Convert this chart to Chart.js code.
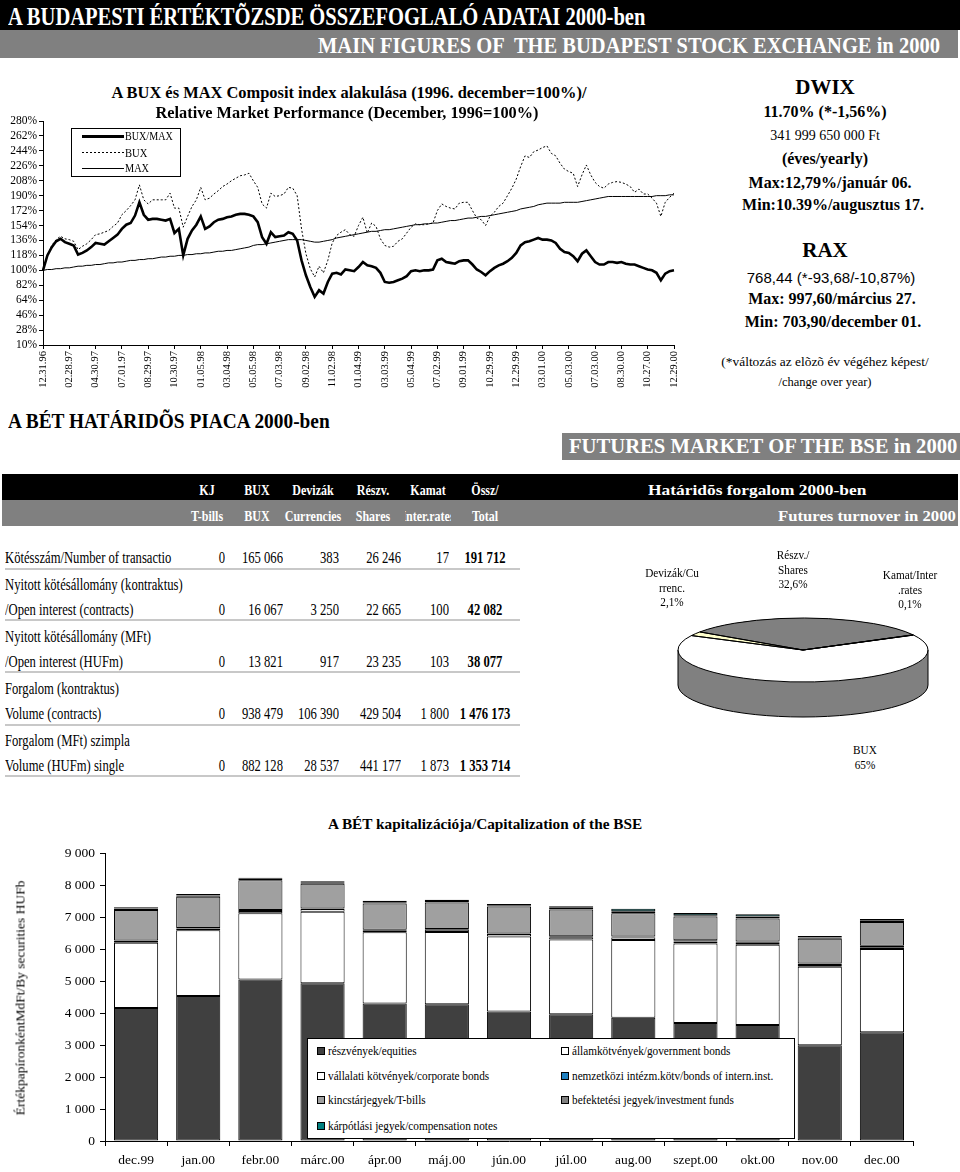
<!DOCTYPE html>
<html>
<head>
<meta charset="utf-8">
<script src="https://cdn.jsdelivr.net/npm/chart.js@4.4.0/dist/chart.umd.min.js"></script>
<style>
  body { margin: 0; background: #fff; }
  #page { position: relative; width: 960px; height: 1172px; overflow: hidden;
          font-family: "Liberation Serif", "Times New Roman", serif; color: #000; }
  .t { position: absolute; white-space: pre; }
  .band { position: absolute; }
  .rule { position: absolute; height: 2px; background: #c8c8c8; }
  .sw { position: absolute; width: 8px; height: 8px; border: 1px solid #000; box-sizing: border-box; }
</style>
</head>
<body>
<div id="page">
  <div class="band" style="left:0;top:0;width:960px;height:30px;background:#000"></div>
  <div class="band" style="left:0;top:30px;width:958px;height:28px;background:#808080"></div>

  <div style="position:absolute;left:0;top:110px;width:700px;height:290px"><canvas id="perf"></canvas></div>
  <div style="position:absolute;left:71px;top:128px;width:108px;height:47px;border:1px solid #000;background:#fff"></div>
  <div class="band" style="left:82px;top:135px;width:42px;height:3px;background:#000"></div>
  <div class="band" style="left:82px;top:152px;width:42px;height:1px;background:repeating-linear-gradient(90deg,#000 0 2px,transparent 2px 4px)"></div>
  <div class="band" style="left:82px;top:168px;width:42px;height:1px;background:#000"></div>

  <div class="band" style="left:562px;top:433px;width:398px;height:27px;background:#808080"></div>
  <div class="band" style="left:2px;top:474px;width:956px;height:26px;background:#000"></div>
  <div class="band" style="left:2px;top:500px;width:956px;height:26px;background:#808080"></div>

  <div style="position:absolute;left:650px;top:560px;width:306px;height:180px"><canvas id="pie"></canvas></div>

  <div style="position:absolute;left:0;top:840px;width:960px;height:332px"><canvas id="cap"></canvas></div>
  <div style="position:absolute;left:307px;top:1038px;width:486px;height:99px;border:1px solid #000;background:#fff"></div>
</div>

<script>
// BUX / MAX relative performance (1996 december = 100%)
const tickDates = ['12.31.96', '02.28.97', '04.30.97', '07.01.97', '08.29.97', '10.30.97', '01.05.98',
  '03.04.98', '05.05.98', '07.03.98', '09.02.98', '11.02.98', '01.04.99', '03.03.99', '05.04.99',
  '07.02.99', '09.01.99', '10.29.99', '12.29.99', '03.01.00', '05.03.00', '07.03.00', '08.30.00',
  '10.27.00', '12.29.00'];
const pointsPerTick = 6;

const buxMaxSeries = [
  100, 118, 128, 135, 138, 134, 132, 130, 119, 121,
  124, 128, 133, 132, 131, 135, 139, 143, 150, 155,
  157, 166, 182, 167, 161, 162, 162, 161, 160, 162,
  145, 150, 118, 138, 148, 155, 165, 150, 153, 158,
  161, 162, 164, 165, 167, 168, 168, 167, 165, 158,
  140, 132, 146, 140, 141, 142, 146, 144, 136, 112,
  94, 80, 68, 76, 72, 86, 96, 97, 95, 101,
  100, 99, 104, 110, 106, 105, 103, 97, 86, 85,
  86, 88, 90, 93, 99, 100, 99, 100, 100, 101,
  112, 114, 110, 109, 108, 111, 112, 112, 107, 101,
  98, 94, 99, 103, 106, 108, 111, 115, 121, 130,
  134, 135, 137, 139, 137, 137, 136, 133, 126, 122,
  121, 117, 111, 120, 124, 117, 110, 107, 107, 110,
  110, 109, 110, 108, 107, 107, 105, 103, 101, 100,
  97, 88, 96, 99, 100
];
const buxSeries = [
  100, 118, 130, 137, 141, 138, 137, 135, 125, 129,
  132, 137, 143, 144, 146, 148, 153, 157, 167, 172,
  178, 185, 203, 185, 180, 185, 185, 185, 185, 193,
  175, 175, 152, 165, 177, 185, 200, 185, 187, 192,
  196, 201, 204, 208, 211, 214, 215, 217, 208, 200,
  180, 175, 193, 189, 190, 192, 200, 199, 190, 150,
  120, 102, 92, 105, 97, 112, 133, 142, 146, 149,
  143, 141, 154, 164, 145, 157, 153, 138, 130, 128,
  129, 135, 138, 145, 152, 156, 155, 155, 156, 157,
  172, 180, 177, 175, 174, 181, 182, 182, 172, 163,
  161, 154, 165, 170, 177, 181, 190, 199, 210, 225,
  238, 236, 243, 245, 248, 250, 241, 238, 229, 222,
  219, 217, 201, 215, 227, 215, 206, 201, 199, 204,
  206, 207, 206, 204, 201, 194, 198, 192, 192, 187,
  181, 165, 182, 188, 193
];
const maxSeries = [
  100, 101, 101, 102, 102, 103, 103, 104, 105, 105,
  106, 106, 107, 107, 108, 109, 109, 110, 110, 111,
  112, 112, 113, 113, 114, 114, 115, 116, 116, 117,
  117, 118, 118, 119, 119, 120, 120, 121, 121, 122,
  123, 123, 124, 124, 125, 126, 127, 128, 130, 131,
  131, 132, 133, 134, 135, 136, 137, 137, 137, 137,
  136, 135, 134, 134, 135, 136, 137, 139, 140, 141,
  142, 143, 144, 145, 146, 147, 147, 148, 149, 149,
  150, 151, 152, 153, 154, 155, 155, 156, 156, 157,
  157, 158, 159, 160, 160, 161, 162, 163, 163, 164,
  165, 165, 166, 167, 168, 169, 170, 171, 172, 174,
  175, 176, 177, 179, 180, 181, 181, 181, 181, 182,
  182, 182, 182, 183, 184, 185, 186, 187, 188, 189,
  189, 189, 189, 189, 189, 189, 189, 189, 189, 189,
  190, 190, 190, 191, 191
];
const perfTicks = { min: 10, max: 280, step: 18 };

// futures market table
const rowTitles = ['Kötésszám/Number of transactio', 'Nyitott kötésállomány (kontraktus)',
  '/Open interest (contracts)', 'Nyitott kötésállomány (MFt)', '/Open interest (HUFm)',
  'Forgalom (kontraktus)', 'Volume (contracts)', 'Forgalom (MFt) szimpla', 'Volume (HUFm) single'];
const colTitlesHu = ['KJ', 'BUX', 'Devizák', 'Részv.', 'Kamat', 'Össz/'];
const colTitlesEn = ['T-bills', 'BUX', 'Currencies', 'Shares', 'Inter.rates', 'Total'];
const kjValues = [0, 0, 0, 0, 0];
const buxValues = [165066, 16067, 13821, 938479, 882128];
const devizaValues = [383, 3250, 917, 106390, 28537];
const reszvValues = [26246, 22665, 23235, 429504, 441177];
const kamatValues = [17, 100, 103, 1800, 1873];
const totalValues = [191712, 42082, 38077, 1476173, 1353714];
const pieLabels = [['KJ'], ['BUX', '65%'], ['Devizák/Cu', 'rrenc.', '2,1%'], ['Részv./', 'Shares', '32,6%'], ['Kamat/Inter', '.rates', '0,1%']];

// BSE capitalization, HUF bn
const months = ['dec.99', 'jan.00', 'febr.00', 'márc.00', 'ápr.00', 'máj.00', 'jún.00', 'júl.00',
  'aug.00', 'szept.00', 'okt.00', 'nov.00', 'dec.00'];
const equities = [4160, 4530, 5045, 4930, 4300, 4275, 4050, 3965, 3855, 3690, 3625, 2990, 3400];
const govBonds = [2035, 2055, 2075, 2240, 2225, 2260, 2340, 2335, 2425, 2485, 2510, 2455, 2600];
const corpBonds = [60, 60, 70, 80, 60, 70, 80, 70, 80, 60, 60, 60, 60];
const internBonds = [10, 10, 30, 20, 20, 20, 20, 30, 30, 40, 40, 40, 40];
const tBills = [960, 980, 930, 770, 820, 830, 840, 840, 730, 740, 720, 780, 750];
const invFunds = [40, 40, 50, 50, 40, 50, 40, 50, 60, 40, 60, 40, 50];
const compNotes = [40, 50, 30, 30, 45, 40, 40, 50, 80, 70, 70, 40, 40];

const page = document.getElementById('page');
const fmt = v => String(v).replace(/\B(?=(\d{3})+(?!\d))/g, ' ');

function put(text, x, y, o = {}) {
  const d = document.createElement('div');
  d.className = 't';
  const size = o.size || 14, lh = o.lh || Math.round(size * 1.25);
  d.textContent = text;
  d.style.fontSize = size + 'px';
  d.style.lineHeight = lh + 'px';
  d.style.top = (y - lh / 2) + 'px';
  if (o.bold) d.style.fontWeight = 'bold';
  if (o.color) d.style.color = o.color;
  if (o.family) d.style.fontFamily = o.family;
  page.appendChild(d);
  let k = o.k || 1;
  if (o.w) k = o.w / d.offsetWidth;
  const align = o.align || 'left';
  if (align === 'left') {
    d.style.left = x + 'px';
    d.style.transformOrigin = 'left center';
    d.style.transform = `scaleX(${k})`;
  } else if (align === 'right') {
    d.style.right = (960 - x) + 'px';
    d.style.transformOrigin = 'right center';
    d.style.transform = `scaleX(${k})`;
  } else {
    d.style.left = x + 'px';
    d.style.transform = `translateX(-50%) scaleX(${k})`;
  }
  return d;
}

// headers
put('A BUDAPESTI ÉRTÉKTÕZSDE ÖSSZEFOGLALÓ ADATAI 2000-ben', 8, 16, { size: 25, bold: true, color: '#fff', w: 637 });
put('MAIN FIGURES OF  THE BUDAPEST STOCK EXCHANGE in 2000', 940, 45, { size: 24, bold: true, color: '#fff', align: 'right', w: 622 });
put('A BÉT HATÁRIDÕS PIACA 2000-ben', 8, 421, { size: 20, bold: true, w: 322 });
put('FUTURES MARKET OF THE BSE in 2000', 957, 446, { size: 20, bold: true, color: '#fff', align: 'right', w: 388 });

// performance chart texts
put('A BUX és MAX Composit index alakulása (1996. december=100%)/', 349, 93, { size: 16, bold: true, align: 'center', w: 475 });
put('Relative Market Performance (December, 1996=100%)', 347, 113, { size: 16, bold: true, align: 'center', w: 383 });
put('BUX/MAX', 125, 136, { size: 12, w: 48 });
put('BUX', 125, 153, { size: 12, w: 22 });
put('MAX', 125, 168, { size: 12, w: 24 });

// DWIX / RAX block
put('DWIX', 825, 87, { size: 21, bold: true, align: 'center' });
put('11.70% (*-1,56%)', 825, 112, { size: 16, bold: true, align: 'center' });
put('341 999 650 000 Ft', 825, 136, { size: 14, align: 'center' });
put('(éves/yearly)', 825, 159, { size: 16, bold: true, align: 'center' });
put('Max:12,79%/január 06.', 830, 183, { size: 16, bold: true, align: 'center' });
put('Min:10.39%/augusztus 17.', 833, 205, { size: 16, bold: true, align: 'center' });
put('RAX', 825, 250, { size: 21, bold: true, align: 'center' });
put('768,44 (*-93,68/-10,87%)', 831, 277, { size: 15, align: 'center', family: '"Liberation Sans", Arial, sans-serif' });
put('Max: 997,60/március 27.', 832, 299, { size: 16, bold: true, align: 'center' });
put('Min: 703,90/december 01.', 833, 322, { size: 16, bold: true, align: 'center' });
put('(*változás az elõzõ év végéhez képest/', 825, 362, { size: 12.5, align: 'center', w: 207 });
put('/change over year)', 825, 382, { size: 12.5, align: 'center' });

// futures table
const colCenters = [207, 257, 313, 373, 428, 485];
colTitlesHu.forEach((s, i) => put(s, colCenters[i], 490, { size: 15, bold: true, color: '#fff', align: 'center', k: 0.8 }));
colTitlesEn.forEach((s, i) => {
  if (i === 4) {
    const clip = document.createElement('div');
    clip.style.cssText = 'position:absolute;left:405px;top:506px;width:46px;height:20px;overflow:hidden';
    const inner = document.createElement('div');
    inner.className = 't';
    inner.textContent = s;
    inner.style.cssText += 'left:23px;top:0;font-size:15px;line-height:20px;font-weight:bold;color:#fff;transform:translateX(-50%) scaleX(0.8)';
    clip.appendChild(inner);
    page.appendChild(clip);
  } else {
    put(s, colCenters[i], 516, { size: 15, bold: true, color: '#fff', align: 'center', k: 0.8 });
  }
});
put('Határidõs forgalom 2000-ben', 648, 490, { size: 15, bold: true, color: '#fff', w: 218 });
put('Futures turnover in 2000', 956, 516, { size: 15, bold: true, color: '#fff', align: 'right', w: 178 });

const rowY = [558, 585, 610, 637, 662, 689, 714, 741, 766];
rowTitles.forEach((s, i) => put(s, 5, rowY[i], { size: 16, k: 0.79 }));
const colRight = [225, 283, 339, 401, 449];
[kjValues, buxValues, devizaValues, reszvValues, kamatValues].forEach((col, c) => {
  col.forEach((v, r) => put(fmt(v), colRight[c], rowY[r * 2], { size: 16, align: 'right', k: 0.79 }));
});
totalValues.forEach((v, r) => put(fmt(v), 485, rowY[r * 2], { size: 16, bold: true, align: 'center', k: 0.79 }));
[568, 619, 671, 724, 775].forEach(y => {
  const l = document.createElement('div');
  l.className = 'rule';
  l.style.left = '5px'; l.style.top = y + 'px'; l.style.width = '515px';
  page.appendChild(l);
});

// pie labels
const pieLabelPos = [null, [865, 750], [672, 573], [793, 555], [910, 575]];
pieLabels.forEach((lines, i) => {
  if (!pieLabelPos[i]) return;
  lines.forEach((s, j) => put(s, pieLabelPos[i][0], pieLabelPos[i][1] + j * 14.5, { size: 12.5, align: 'center', k: 0.9 }));
});

// capitalization texts
put('A BÉT kapitalizációja/Capitalization of the BSE', 485, 824, { size: 14.5, bold: true, align: 'center', w: 314 });
const yTitle = put('ÉrtékpapíronkéntMdFt/By securities HUFb', 0, 0, { size: 13.5 });
yTitle.style.left = '20px'; yTitle.style.top = '998px';
yTitle.style.transformOrigin = 'center';
yTitle.style.transform = 'translate(-50%,-50%) rotate(-90deg)';

const capSets = [
  { label: 'részvények/equities', data: equities, color: '#404040' },
  { label: 'államkötvények/government bonds', data: govBonds, color: '#ffffff' },
  { label: 'vállalati kötvények/corporate bonds', data: corpBonds, color: '#ffffff' },
  { label: 'nemzetközi intézm.kötv/bonds of intern.inst.', data: internBonds, color: '#1f80c0' },
  { label: 'kincstárjegyek/T-bills', data: tBills, color: '#a0a0a0' },
  { label: 'befektetési jegyek/investment funds', data: invFunds, color: '#808080' },
  { label: 'kárpótlási jegyek/compensation notes', data: compNotes, color: '#008080' }
];
const legendRows = [1051, 1076, 1100, 1126];
capSets.forEach((s, i) => {
  const col = i % 2, row = Math.floor(i / 2);
  const sx = col ? 561 : 317, y = legendRows[row];
  const sw = document.createElement('div');
  sw.className = 'sw';
  sw.style.left = sx + 'px'; sw.style.top = (y - 4) + 'px'; sw.style.background = s.color;
  page.appendChild(sw);
  put(s.label, sx + 11, y, { size: 12.5, k: 0.9 });
});

// charts
Chart.defaults.font.family = '"Liberation Serif", "Times New Roman", serif';
Chart.defaults.color = '#000';

const perfLabels = buxSeries.map((v, i) => i % pointsPerTick === 0 ? tickDates[i / pointsPerTick] : '');

new Chart(document.getElementById('perf'), {
  type: 'line',
  data: {
    labels: perfLabels,
    datasets: [
      { label: 'BUX/MAX', data: buxMaxSeries, borderColor: '#000', borderWidth: 2.6 },
      { label: 'BUX', data: buxSeries, borderColor: '#000', borderWidth: 1, borderDash: [2, 2] },
      { label: 'MAX', data: maxSeries, borderColor: '#000', borderWidth: 1 }
    ]
  },
  options: {
    responsive: true,
    maintainAspectRatio: false,
    animation: false,
    events: [],
    elements: { point: { radius: 0 }, line: { tension: 0 } },
    layout: { padding: { top: 11, right: 26, left: 0, bottom: 0 } },
    plugins: { legend: { display: false }, tooltip: { enabled: false } },
    scales: {
      x: {
        afterFit: s => { s.height = 55; },
        border: { color: '#000' },
        grid: {
          drawOnChartArea: false, tickLength: 4,
          color: c => (c.index % pointsPerTick === 0 ? '#000' : 'rgba(0,0,0,0)')
        },
        ticks: {
          autoSkip: false, minRotation: 90, maxRotation: 90, padding: 2,
          font: { size: 10.5 },
          callback: function (v, i) { return perfLabels[i]; }
        }
      },
      y: {
        min: perfTicks.min, max: perfTicks.max,
        afterFit: s => { s.width = 43; },
        border: { color: '#000' },
        grid: { drawOnChartArea: false, tickLength: 4, color: '#000' },
        ticks: { stepSize: perfTicks.step, autoSkip: false, padding: 2, font: { size: 11.5 }, callback: v => v + '%' }
      }
    }
  }
});

const pie3d = {
  id: 'pie3d',
  beforeDatasetsDraw(chart, args, opts) {
    const ctx = chart.ctx;
    const arcs = chart.getDatasetMeta(0).data;
    const { x, y } = arcs[0];
    const depth = opts.depth / opts.tilt;
    ctx.save();
    ctx.translate(x, y); ctx.scale(1, opts.tilt); ctx.translate(-x, -y);
    for (let k = depth; k > 0; k -= 1.5) {
      arcs.forEach((a, i) => {
        if (a.endAngle - a.startAngle <= 0) return;
        ctx.beginPath();
        ctx.moveTo(a.x, a.y + k);
        ctx.arc(a.x, a.y + k, a.outerRadius, a.startAngle, a.endAngle);
        ctx.closePath();
        ctx.fillStyle = opts.sides[i];
        ctx.fill();
      });
    }
  },
  afterDatasetsDraw(chart, args, opts) {
    const ctx = chart.ctx;
    const arcs = chart.getDatasetMeta(0).data;
    const { x, y, outerRadius: r } = arcs[0];
    const depth = opts.depth / opts.tilt;
    ctx.beginPath();
    arcs.forEach(a => {
      if (a.endAngle <= a.startAngle) return;
      ctx.moveTo(a.x, a.y);
      ctx.arc(a.x, a.y, r, a.startAngle, a.endAngle);
      ctx.closePath();
    });
    ctx.moveTo(x + r, y + depth);
    ctx.arc(x, y + depth, r, 0, Math.PI);
    ctx.moveTo(x + r, y); ctx.lineTo(x + r, y + depth);
    ctx.moveTo(x - r, y); ctx.lineTo(x - r, y + depth);
    ctx.restore();
    ctx.lineWidth = 1;
    ctx.strokeStyle = '#000';
    ctx.stroke();
  }
};

new Chart(document.getElementById('pie'), {
  type: 'pie',
  data: {
    labels: pieLabels.map(l => l[0]),
    datasets: [{
      data: [kjValues[4], buxValues[4], devizaValues[4], reszvValues[4], kamatValues[4]],
      backgroundColor: ['#ffffff', '#ffffff', '#ffffcc', '#808080', '#ccffff'],
      borderWidth: 0,
      clip: false
    }]
  },
  options: {
    responsive: true,
    maintainAspectRatio: false,
    animation: false,
    events: [],
    rotation: 62.2,
    radius: 125,
    plugins: {
      legend: { display: false }, tooltip: { enabled: false },
      pie3d: { tilt: 0.256, depth: 35, sides: ['#808080', '#808080', '#9a9a60', '#404040', '#609a9a'] }
    }
  },
  plugins: [pie3d]
});

new Chart(document.getElementById('cap'), {
  type: 'bar',
  data: {
    labels: months,
    datasets: capSets.map(s => ({
      label: s.label, data: s.data, backgroundColor: s.color,
      borderColor: '#000', borderWidth: 1, borderSkipped: false,
      barPercentage: 0.71, categoryPercentage: 1
    }))
  },
  options: {
    responsive: true,
    maintainAspectRatio: false,
    animation: false,
    events: [],
    layout: { padding: { top: 9, right: 47, left: 0, bottom: 0 } },
    plugins: { legend: { display: false }, tooltip: { enabled: false } },
    scales: {
      x: {
        stacked: true,
        afterFit: s => { s.height = 31; },
        border: { color: '#000' },
        grid: { drawOnChartArea: false, offset: true, tickLength: 5, color: '#000' },
        ticks: { padding: 6, font: { size: 13.5 } }
      },
      y: {
        stacked: true,
        min: 0, max: 9000,
        afterFit: s => { s.width = 105; },
        border: { color: '#000' },
        grid: { drawOnChartArea: false, tickLength: 5, color: '#000' },
        ticks: { stepSize: 1000, padding: 5, font: { size: 13.5 }, callback: v => fmt(v) }
      }
    }
  }
});
</script>
</body>
</html>
